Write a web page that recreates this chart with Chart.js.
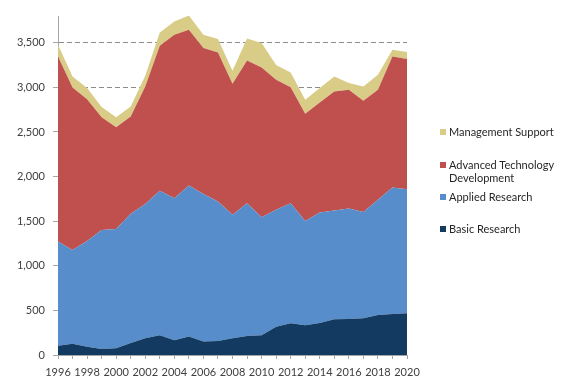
<!DOCTYPE html>
<html>
<head>
<meta charset="utf-8">
<script src="https://cdn.jsdelivr.net/npm/chart.js@4.4.1/dist/chart.umd.min.js"></script>
<style>
  body { margin: 0; background: #fff; }
  #wrap { position: relative; width: 576px; height: 392px; }
  .leg { position: absolute; left: 440px; font: 11px Lato, sans-serif; color: #262626; line-height: 13px; }
  .leg i { position: absolute; left: 0; top: 4px; width: 6px; height: 6px; }
  .leg span { display: block; margin-left: 9px; width: 112px; }
</style>
</head>
<body>
<div id="wrap">
  <canvas id="chart" width="576" height="392"></canvas>
  <div id="legend"></div>
</div>
<script>
// Données (millions)
const years = ['1996', '1997', '1998', '1999', '2000', '2001', '2002', '2003', '2004', '2005', '2006', '2007',
               '2008', '2009', '2010', '2011', '2012', '2013', '2014', '2015', '2016', '2017', '2018', '2019', '2020'];
const basicResearch = [105, 127, 93, 67, 75, 135, 187, 221, 165, 206, 150, 157,
                       187, 213, 221, 318, 355, 333, 359, 400, 404, 411, 449, 460, 467];
const appliedResearch = [1166, 1051, 1186, 1335, 1338, 1447, 1507, 1619, 1593, 1694, 1656, 1563,
                         1384, 1489, 1324, 1309, 1347, 1170, 1238, 1219, 1237, 1193, 1290, 1417, 1391];
const advancedTechDev = [2075, 1821, 1589, 1264, 1141, 1092, 1316, 1626, 1832, 1746, 1634, 1671,
                         1469, 1600, 1678, 1458, 1300, 1201, 1233, 1335, 1332, 1245, 1234, 1469, 1459];
const managementSupport = [132, 123, 124, 113, 112, 112, 120, 150, 149, 160, 150, 150,
                           146, 247, 274, 165, 165, 157, 162, 168, 75, 161, 168, 76, 79];
const yTicks = [0, 500, 1000, 1500, 2000, 2500, 3000, 3500];

// Séries empilées, du bas vers le haut
const series = [
    { label: 'Basic Research', data: basicResearch, color: '#133A60' },
    { label: 'Applied Research', data: appliedResearch, color: '#578DCB' },
    { label: 'Advanced Technology Development', data: advancedTechDev, color: '#C0504D' },
    { label: 'Management Support', data: managementSupport, color: '#D9CC86' }
];

// Position verticale des entrées de légende (de haut en bas)
const legendTops = [125, 157.5, 190, 221.5];

const ctx = document.getElementById('chart').getContext('2d');
const chart = new Chart(ctx, {
    type: 'line',
    data: {
        labels: years,
        datasets: series.map((s, i) => ({
            label: s.label,
            data: s.data,
            backgroundColor: s.color,
            borderWidth: 0,
            pointRadius: 0,
            tension: 0,
            fill: i === 0 ? 'origin' : '-1'
        }))
    },
    options: {
        responsive: false,
        animation: false,
        layout: { padding: { top: 16, right: 169, left: 0, bottom: 0 } },
        plugins: { legend: { display: false }, tooltip: { enabled: false } },
        scales: {
            x: {
                z: 1,
                grid: { drawOnChartArea: false, drawTicks: true, tickLength: 4, color: '#a6a6a6' },
                border: { color: '#a6a6a6' },
                ticks: {
                    autoSkip: false,
                    maxRotation: 0,
                    padding: 7,
                    color: '#404040',
                    font: { family: 'Lato', size: 11 },
                    callback: function(value, index) {
                        return index % 2 === 0 ? years[index] : '';
                    }
                },
                afterFit: function(scale) { scale.height = 37; }
            },
            y: {
                stacked: true,
                min: 0,
                max: 3800,
                grid: { drawTicks: true, tickLength: 5, color: '#8c8c8c', tickColor: '#a6a6a6' },
                border: { color: '#a6a6a6', dash: [5, 3] },
                afterBuildTicks: function(scale) {
                    scale.ticks = yTicks.map(v => ({ value: v }));
                },
                ticks: {
                    padding: 8,
                    color: '#404040',
                    font: { family: 'Lato', size: 11 },
                    callback: function(value) { return value.toLocaleString('en-US'); }
                },
                afterFit: function(scale) { scale.width = 58; }
            }
        }
    }
});

// Légende HTML construite à partir des séries
const legend = document.getElementById('legend');
[...series].reverse().forEach((s, i) => {
    const item = document.createElement('div');
    item.className = 'leg';
    item.style.top = legendTops[i] + 'px';
    item.innerHTML = `<i style="background:${s.color}"></i><span>${s.label}</span>`;
    legend.appendChild(item);
});
</script>
</body>
</html>
